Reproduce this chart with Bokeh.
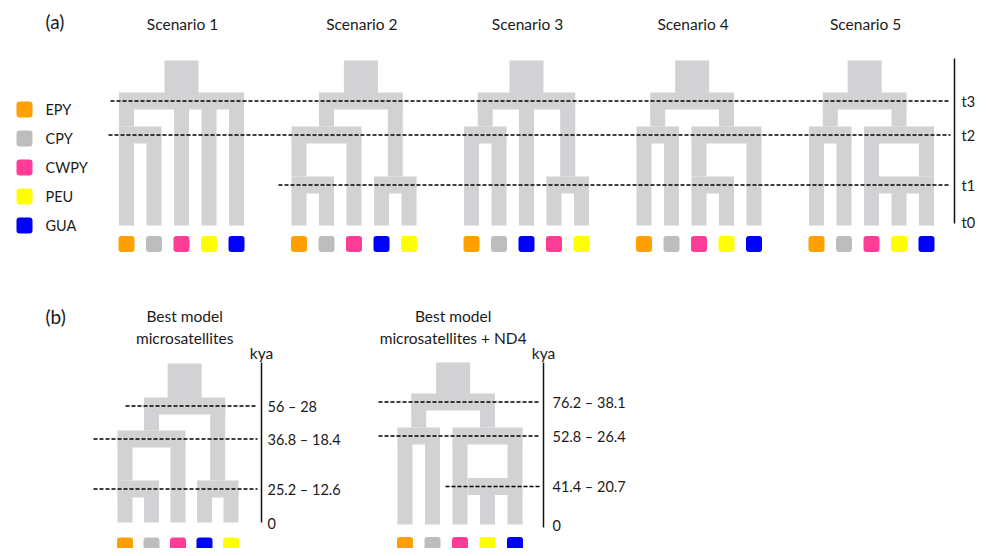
from bokeh.plotting import figure
from bokeh.models import Range1d, ColumnDataSource
from bokeh.core.properties import value
from bokeh.embed import file_html
from bokeh.resources import INLINE

# ---------------- data ----------------
populations = ["EPY", "CPY", "CWPY", "PEU", "GUA"]
pop_colors = ["#ff9f00", "#bdbdbd", "#ff3d96", "#ffff00", "#0000ff"]

scenario_names = ["Scenario 1", "Scenario 2", "Scenario 3", "Scenario 4", "Scenario 5"]
scenario_leaf_order = [
    ["EPY", "CPY", "CWPY", "PEU", "GUA"],
    ["EPY", "CPY", "CWPY", "GUA", "PEU"],
    ["EPY", "CPY", "GUA", "CWPY", "PEU"],
    ["EPY", "CPY", "CWPY", "PEU", "GUA"],
    ["EPY", "CPY", "CWPY", "PEU", "GUA"],
]
# merges: (children, time level, ancestor name), bottom-up
scenario_merges = [
    [(("EPY", "CPY"), "t2", "EC"), (("EC", "CWPY", "PEU", "GUA"), "t3", "root")],
    [(("EPY", "CPY"), "t1", "EC"), (("EC", "CWPY"), "t2", "ECW"),
     (("GUA", "PEU"), "t1", "GP"), (("ECW", "GP"), "t3", "root")],
    [(("EPY", "CPY"), "t2", "EC"), (("CWPY", "PEU"), "t1", "CP"),
     (("EC", "GUA", "CP"), "t3", "root")],
    [(("EPY", "CPY"), "t2", "EC"), (("CWPY", "PEU"), "t1", "CP"),
     (("CP", "GUA"), "t2", "CPG"), (("EC", "CPG"), "t3", "root")],
    [(("EPY", "CPY"), "t2", "EC"), (("PEU", "GUA"), "t1", "PG"),
     (("CWPY", "PG"), "t2", "CPG"), (("EC", "CPG"), "t3", "root")],
]
time_labels = ["t0", "t1", "t2", "t3"]

best_titles = [["Best model", "microsatellites"], ["Best model", "microsatellites + ND4"]]
best_leaf_order = [["EPY", "CPY", "CWPY", "GUA", "PEU"], ["EPY", "CPY", "CWPY", "PEU", "GUA"]]
best_merges = [scenario_merges[1], scenario_merges[4]]
best_time_ranges = [["0", "25.2 \u2013 12.6", "36.8 \u2013 18.4", "56 \u2013 28"],
                    ["0", "41.4 \u2013 20.7", "52.8 \u2013 26.4", "76.2 \u2013 38.1"]]
time_unit = "kya"
panel_labels = ["(a)", "(b)"]

# ---------------- layout / style ----------------
TREE_GREY = "#d2d1d3"
COL_W = 15
BAR_H = 17
ROOT_W = 34
SQ = 16
FONT = value("Lato")

scen_anchor = [
    {"EC": "left"},
    {"EC": "left", "ECW": "center", "GP": "center"},
    {"EC": "center", "CP": "center"},
    {"EC": "center", "CP": "left", "CPG": "center"},
    {"EC": "center", "PG": "right+", "CPG": "center"},
]
best_anchor = [scen_anchor[1], scen_anchor[4]]

panel_a = dict(lev={"t0": 225, "t1": 184.5, "t2": 134.5, "t3": 100.5}, root_top=60,
               dash={"t3": (110, 950), "t2": (108, 950), "t1": (278, 950)},
               sq_y=243.5, axis_x=954, axis_y=(58, 223), lab_x=961)
panel_b = [
    dict(lev={"t0": 522, "t1": 488.5, "t2": 438.5, "t3": 405.5}, root_top=363,
         dash={"t3": (125, 257), "t2": (93, 257), "t1": (93, 257)},
         sq_y=545, axis_x=261, axis_y=(362, 522), lab_x=267, x0=124.5, dx=26.5),
    dict(lev={"t0": 524, "t1": 486, "t2": 435.5, "t3": 401.5}, root_top=362,
         dash={"t3": (378, 540), "t2": (378, 540), "t1": (445, 540)},
         sq_y=544.5, axis_x=543, axis_y=(362, 527), lab_x=552, x0=404.5, dx=27.5),
]

p = figure(width=979, height=548, x_range=Range1d(0, 979), y_range=Range1d(548, 0),
           x_axis_type=None, y_axis_type=None, toolbar_location=None,
           output_backend="svg", min_border=0)
p.grid.visible = False
p.outline_line_color = None
p.background_fill_color = "white"

quads = dict(left=[], right=[], top=[], bottom=[])
squares = dict(x=[], y=[], color=[])
dashes = dict(x0=[], x1=[], y0=[], y1=[])
axes = dict(x0=[], x1=[], y0=[], y1=[])
texts = dict(x=[], y=[], text=[], align=[], size=[])


def add_quad(l, r, t, b):
    quads["left"].append(l); quads["right"].append(r)
    quads["top"].append(t); quads["bottom"].append(b)


def add_text(x, y, s, align="left", size="14px"):
    texts["x"].append(x); texts["y"].append(y); texts["text"].append(s)
    texts["align"].append(align); texts["size"].append(size)


def layout_tree(order, merges, anchors, x0, dx, lev, root_top, sq_y):
    nodes = {}
    for i, name in enumerate(order):
        nodes[name] = dict(x=x0 + i * dx, low=lev["t0"])
        squares["x"].append(x0 + i * dx); squares["y"].append(sq_y)
        squares["color"].append(pop_colors[populations.index(name)])
    for children, lv, parent in merges:
        yc = lev[lv]
        top, bot = yc - BAR_H / 2, yc + BAR_H / 2
        xs = [nodes[c]["x"] for c in children]
        left, right = min(xs) - COL_W / 2, max(xs) + COL_W / 2
        for c in children:
            add_quad(nodes[c]["x"] - COL_W / 2, nodes[c]["x"] + COL_W / 2, yc, nodes[c]["low"])
        a = anchors.get(parent, "center")
        bl = left - (dx - COL_W) if a.endswith("+") else left
        add_quad(bl, right, top, bot)
        if a.startswith("left"):
            px = xs[0]
        elif a.startswith("right"):
            px = xs[-1]
        else:
            px = (left + right) / 2
        nodes[parent] = dict(x=px, low=top)
    root = nodes[merges[-1][2]]
    add_quad(root["x"] - ROOT_W / 2, root["x"] + ROOT_W / 2, root_top, root["low"] + 1)
    return root["x"]


# panel (a)
for k, name in enumerate(scenario_names):
    rx = layout_tree(scenario_leaf_order[k], scenario_merges[k], scen_anchor[k],
                     126 + k * 172.5, 27.5, panel_a["lev"], panel_a["root_top"], panel_a["sq_y"])
    add_text(rx + 1, 23, name, "center", "15.5px")
for lv, (xa, xb) in panel_a["dash"].items():
    y = panel_a["lev"][lv]
    dashes["x0"].append(xa); dashes["x1"].append(xb); dashes["y0"].append(y); dashes["y1"].append(y)
axes["x0"].append(panel_a["axis_x"]); axes["x1"].append(panel_a["axis_x"])
axes["y0"].append(panel_a["axis_y"][0]); axes["y1"].append(panel_a["axis_y"][1])
for lv in time_labels:
    y = panel_a["lev"][lv] - (3 if lv == "t0" else 0)
    add_text(panel_a["lab_x"], y, lv, "left", "14.5px")

# legend
for i, (pop, col) in enumerate(zip(populations, pop_colors)):
    squares["x"].append(24); squares["y"].append(109 + i * 29); squares["color"].append(col)
    add_text(45, 109 + i * 29, pop, "left", "14.5px")

# panel labels
add_text(45, 21, panel_labels[0], "left", "19px")
add_text(45, 316, panel_labels[1], "left", "19px")

# panel (b)
for j in range(2):
    pb = panel_b[j]
    rx = layout_tree(best_leaf_order[j], best_merges[j], best_anchor[j],
                     pb["x0"], pb["dx"], pb["lev"], pb["root_top"], pb["sq_y"])
    add_text(rx, 315, best_titles[j][0], "center", "15.5px")
    add_text(rx, 337, best_titles[j][1], "center", "15.5px")
    for lv, (xa, xb) in pb["dash"].items():
        y = pb["lev"][lv]
        dashes["x0"].append(xa); dashes["x1"].append(xb); dashes["y0"].append(y); dashes["y1"].append(y)
    axes["x0"].append(pb["axis_x"]); axes["x1"].append(pb["axis_x"])
    axes["y0"].append(pb["axis_y"][0]); axes["y1"].append(pb["axis_y"][1])
    add_text(pb["axis_x"], 352, time_unit, "center", "15.5px")
    for lv, lab in zip(time_labels, best_time_ranges[j]):
        y = pb["lev"][lv] + (1 if lv == "t0" else 0)
        add_text(pb["lab_x"], y, lab, "left", "14.5px")

p.quad(source=ColumnDataSource(quads), left="left", right="right", top="top", bottom="bottom",
       fill_color=TREE_GREY, line_color=None)
p.rect(source=ColumnDataSource(squares), x="x", y="y", width=SQ, height=SQ,
       fill_color="color", line_color=None, border_radius=3)
p.segment(source=ColumnDataSource(dashes), x0="x0", x1="x1", y0="y0", y1="y1",
          line_color="#000000", line_width=1.4, line_dash="4 2")
p.segment(source=ColumnDataSource(axes), x0="x0", x1="x1", y0="y0", y1="y1",
          line_color="#111111", line_width=1.5)
p.text(source=ColumnDataSource(texts), x="x", y="y", text="text", text_align="align",
       text_baseline="middle", text_font=FONT, text_font_size="size", text_color="#1a1a1a")

open("out.html", "w").write(file_html(p, INLINE))
